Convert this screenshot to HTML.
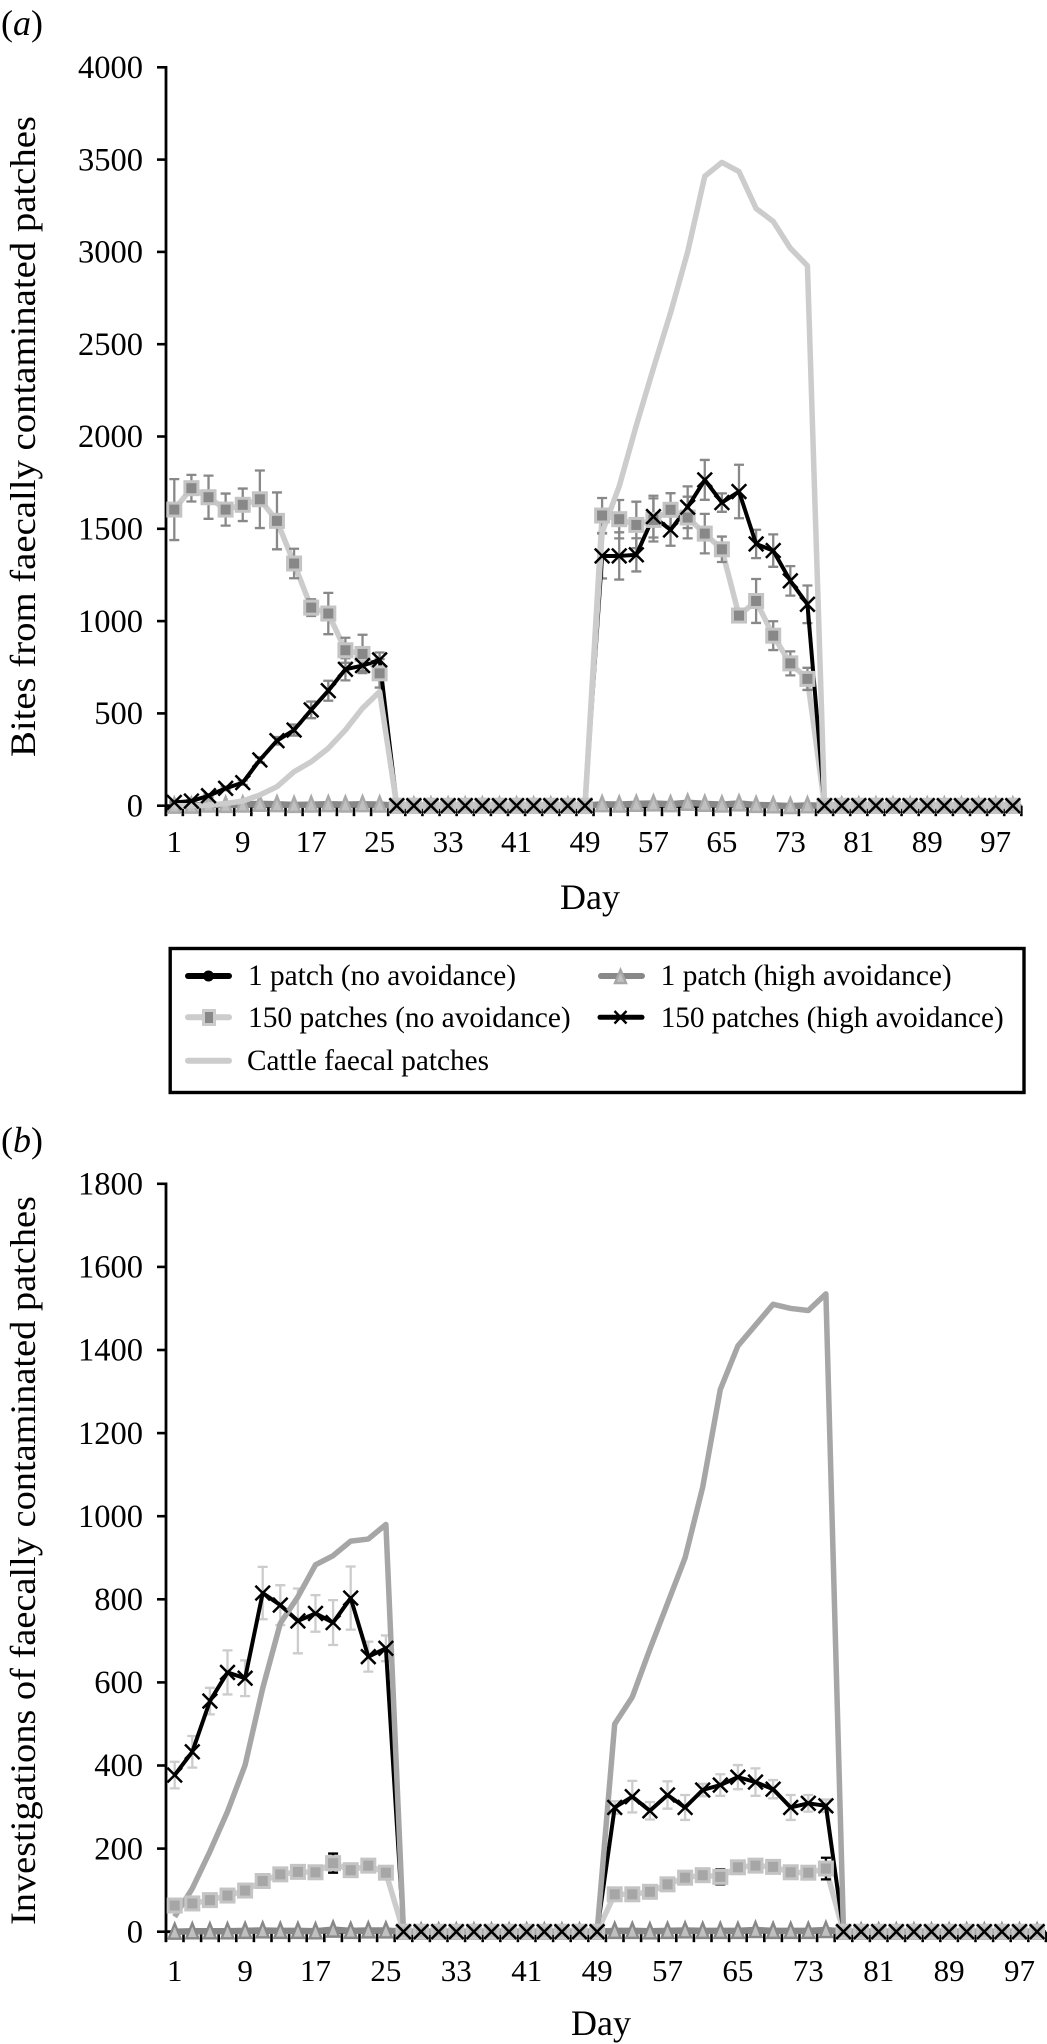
<!DOCTYPE html>
<html lang="en">
<head>
<meta charset="utf-8">
<title>Bites and investigations of faecally contaminated patches</title>
<style>
html,body{margin:0;padding:0;background:#fff;}
body{width:1047px;height:2044px;overflow:hidden;}
svg{display:block;}
text{font-family:"Liberation Serif","Times New Roman",serif;fill:#000;}
</style>
</head>
<body>
<svg id="figure" width="1047" height="2044" viewBox="0 0 1047 2044" xmlns="http://www.w3.org/2000/svg">
  <text x="1" y="35" font-size="36">(<tspan font-style="italic">a</tspan>)</text>
  <text x="1" y="1152" font-size="36">(<tspan font-style="italic">b</tspan>)</text>

  <g>
    <rect x="170.2" y="948.5" width="853.8" height="144" fill="#fff" stroke="#000" stroke-width="3.4"/>
    <g>
      <line x1="188" y1="976" x2="229" y2="976" stroke="#000" stroke-width="6" stroke-linecap="round"/>
      <circle cx="208.5" cy="976" r="5.5" fill="#000"/>
      <text x="248" y="985" font-size="29.3" textLength="268" lengthAdjust="spacingAndGlyphs">1 patch (no avoidance)</text>
    </g>
    <g>
      <line x1="601" y1="976" x2="642" y2="976" stroke="#888" stroke-width="6" stroke-linecap="round"/>
      <polygon points="620.5,970 626,983 615,983" fill="#c0c0c0" stroke="#a6a6a6" stroke-width="2.4"/>
      <text x="660.7" y="985" font-size="29.3" textLength="291" lengthAdjust="spacingAndGlyphs">1 patch (high avoidance)</text>
    </g>
    <g>
      <line x1="188" y1="1017.3" x2="229" y2="1017.3" stroke="#ccc" stroke-width="6" stroke-linecap="round"/>
      <rect x="203.5" y="1010.5" width="11" height="14" fill="#888" stroke="#ccc" stroke-width="3"/>
      <text x="248" y="1027" font-size="29.3" textLength="322.7" lengthAdjust="spacingAndGlyphs">150 patches (no avoidance)</text>
    </g>
    <g>
      <line x1="600" y1="1017.3" x2="642" y2="1017.3" stroke="#000" stroke-width="5" stroke-linecap="round"/>
      <path d="M614.5 1011 L626.5 1023.5 M626.5 1011 L614.5 1023.5" stroke="#000" stroke-width="2.4" fill="none"/>
      <text x="660.7" y="1027" font-size="29.3" textLength="343" lengthAdjust="spacingAndGlyphs">150 patches (high avoidance)</text>
    </g>
    <g>
      <line x1="188" y1="1060.7" x2="229" y2="1060.7" stroke="#ccc" stroke-width="6" stroke-linecap="round"/>
      <text x="247" y="1070" font-size="29.3" textLength="242" lengthAdjust="spacingAndGlyphs">Cattle faecal patches</text>
    </g>
  </g>
</svg>

<script>
// Categories: plotted days (odd days 1..99)
const days = [1,3,5,7,9,11,13,15,17,19,21,23,25,27,29,31,33,35,37,39,41,43,45,47,49,51,53,55,57,59,61,63,65,67,69,71,73,75,77,79,81,83,85,87,89,91,93,95,97,99];
const xTickLabels = [1,9,17,25,33,41,49,57,65,73,81,89,97];

// Panel (a): bites from faecally contaminated patches
const yTicksA = [0,500,1000,1500,2000,2500,3000,3500,4000];
const onePatchNoAvoidA = [0,0,0,0,0,0,0,0,0,0,0,0,0, 0,0,0,0,0,0,0,0,0,0,0,0, 0,0,0,0,0,0,0,0,0,0,0,0,0, 0,0,0,0,0,0,0,0,0,0,0,0];
const onePatchHighAvoidA = [0,0,6,4,6,10,8,4,6,8,6,8,6, 0,0,0,0,0,0,0,0,0,0,0,0, 8,6,10,12,8,16,10,6,12,4,2,-2,2, 0,0,0,0,0,0,0,0,0,0,0,0];
const manyPatchNoAvoidA = [1604,1720,1671,1604,1630,1660,1543,1312,1073,1041,842,822,717, 0,0,0,0,0,0,0,0,0,0,0,0, 1572,1552,1521,1548,1603,1561,1474,1389,1030,1109,921,771,687, 0,0,0,0,0,0,0,0,0,0,0,0];
const manyPatchNoAvoidErrA = [165,72,117,87,88,156,154,80,45,112,68,104,77, 0,0,0,0,0,0,0,0,0,0,0,0, 95,104,126,117,90,113,107,69,36,119,78,65,60, 0,0,0,0,0,0,0,0,0,0,0,0];
const manyPatchHighAvoidA = [18,25,54,94,125,248,352,410,519,623,739,759,790, 0,0,0,0,0,0,0,0,0,0,0,0, 1353,1353,1359,1566,1494,1617,1765,1642,1702,1418,1382,1218,1091, 0,0,0,0,0,0,0,0,0,0,0,0];
const manyPatchHighAvoidErrA = [5,5,8,10,12,15,20,30,45,54,60,30,40, 0,0,0,0,0,0,0,0,0,0,0,0, 122,128,90,113,86,113,108,50,145,77,88,80,102, 0,0,0,0,0,0,0,0,0,0,0,0];
const cattleA = [0,0,3,12,25,58,103,184,238,311,410,528,618, 0,0,0,0,0,0,0,0,0,0,0,0, 1480,1730,2060,2370,2670,3000,3410,3485,3435,3235,3165,3020,2925, 0,0,0,0,0,0,0,0,0,0,0,0];

// Panel (b): investigations of faecally contaminated patches
const yTicksB = [0,200,400,600,800,1000,1200,1400,1600,1800];
const onePatchNoAvoidB = [0,0,0,0,0,0,0,0,0,0,0,0,0, 0,0,0,0,0,0,0,0,0,0,0,0, 0,0,0,0,0,0,0,0,0,0,0,0,0, 0,0,0,0,0,0,0,0,0,0,0,0];
const onePatchHighAvoidB = [0,1,1,1,2,3,2,2,1,5,2,3,3, 0,0,0,0,0,0,0,0,0,0,0,0, 2,2,1,2,3,2,2,2,4,2,2,2,4, 0,0,0,0,0,0,0,0,0,0,0,0];
const manyPatchNoAvoidB = [63,68,76,87,99,122,138,144,143,165,148,159,142, 0,0,0,0,0,0,0,0,0,0,0,0, 90,90,96,114,130,136,132,155,159,156,143,142,152, 0,0,0,0,0,0,0,0,0,0,0,0];
const manyPatchNoAvoidErrB = [5,5,5,5,5,5,5,5,5,23,5,5,5, 0,0,0,0,0,0,0,0,0,0,0,0, 5,5,5,5,5,5,18,5,5,5,5,5,26, 0,0,0,0,0,0,0,0,0,0,0,0];
const manyPatchHighAvoidB = [377,433,555,624,610,815,786,748,766,744,803,662,682, 0,0,0,0,0,0,0,0,0,0,0,0, 299,325,291,329,299,341,353,372,360,343,299,309,303, 0,0,0,0,0,0,0,0,0,0,0,0];
const manyPatchHighAvoidErrB = [32,38,32,53,43,63,48,78,44,54,76,36,31, 0,0,0,0,0,0,0,0,0,0,0,0, 15,38,21,33,30,15,26,29,33,22,30,20,15, 0,0,0,0,0,0,0,0,0,0,0,0];
const cattleB = [36,104,193,289,401,586,742,806,883,905,940,945,980, 0,0,0,0,0,0,0,0,0,0,0,0, 500,565,680,790,900,1070,1305,1410,1460,1510,1500,1495,1535, 0,0,0,0,0,0,0,0,0,0,0,0];

const NS = 'http://www.w3.org/2000/svg';
const root = document.getElementById('figure');

function mk(tag, parent) {
  const el = document.createElementNS(NS, tag);
  parent.appendChild(el);
  return el;
}
function set(el, props) {
  for (const k in props) el.setAttribute(k, props[k]);
  return el;
}
function pathOf(values, sx, sy) {
  return values.map((v, i) => (i ? 'L' : 'M') + sx(days[i]).toFixed(2) + ' ' + sy(v).toFixed(2)).join(' ');
}
function seriesLine(parent, d, stroke, width) {
  const el = mk('path', parent);
  set(el, {d: d, fill: 'none', stroke: stroke, 'stroke-width': width, 'stroke-linejoin': 'round'});
  return el;
}

function drawErrorBars(parent, values, errs, sx, sy, colour) {
  errs.forEach((e, i) => {
    if (!e) return;
    const x = sx(days[i]);
    const y1 = sy(values[i] + e);
    const y2 = sy(values[i] - e);
    const bar = mk('path', parent);
    
    
    set(bar, {d: 'M' + x + ' ' + y1 + ' V' + y2 + ' M' + (x - 5) + ' ' + y1 + ' H' + (x + 5) + ' M' + (x - 5) + ' ' + y2 + ' H' + (x + 5), fill: 'none', stroke: colour, 'stroke-width': 2.3});
  });
}

function drawPanel(c) {
  const sx = d => c.x0 + (d - 1) * c.dx;
  const sy = v => c.y0 - v * c.yScale;

  const panel = mk('g', root);
  
  

  // Axes
  const axes = mk('g', panel);
  
  

  const yAxis = mk('line', axes);
  
  
  set(yAxis, {x1: 166, x2: 166, y1: sy(c.yTicks[c.yTicks.length - 1]) - 1.3, y2: c.y0 + 10, stroke: '#000', 'stroke-width': 2.8});

  const xAxis = mk('line', axes);
  
  
  set(xAxis, {x1: 166, x2: sx(100), y1: c.y0, y2: c.y0, stroke: '#000', 'stroke-width': 2.8});

  c.yTicks.forEach(t => {
    const tick = mk('line', axes);
    
    
    set(tick, {x1: 157, x2: 166, y1: sy(t), y2: sy(t), stroke: '#000', 'stroke-width': 2.6});
    const label = mk('text', axes);
    
    
    set(label, {x: 143, y: sy(t) + 10.7, 'text-anchor': 'end', 'font-size': 32.5});
    label.textContent = t;
  });

  for (let d = 0; d <= 100; d += 2) {
    const tick = mk('line', axes);
    
    
    set(tick, {x1: sx(d), x2: sx(d), y1: c.y0, y2: c.y0 + 10.5, stroke: '#000', 'stroke-width': 2.6});
  }

  xTickLabels.forEach(t => {
    const label = mk('text', axes);
    
    
    set(label, {x: sx(t), y: c.xLabelY, 'text-anchor': 'middle', 'font-size': 31});
    label.textContent = t;
  });

  const xTitle = mk('text', axes);
  
  
  set(xTitle, {x: c.dayX, y: c.dayY, 'text-anchor': 'middle', 'font-size': 36});
  xTitle.textContent = 'Day';

  const yTitle = mk('text', axes);
  
  
  set(yTitle, {transform: 'translate(35,' + c.titleStart + ') rotate(-90)', 'font-size': 36, textLength: c.titleLen, lengthAdjust: 'spacingAndGlyphs'});
  yTitle.textContent = c.title;

  // Series: 1 patch (no avoidance)
  const s1 = mk('g', panel);
  
  
  seriesLine(s1, pathOf(c.onePatchNo, sx, sy), '#000', 4);

  // Series: 1 patch (high avoidance)
  const s2 = mk('g', panel);
  
  
  seriesLine(s2, pathOf(c.onePatchHigh, sx, sy), '#888', 6.5);
  c.onePatchHigh.forEach((v, i) => {
    const x = sx(days[i]);
    const y = sy(v);
    const tri = mk('polygon', s2);
    
    
    set(tri, {points: x + ',' + (y - 8) + ' ' + (x + 6) + ',' + (y + 7) + ' ' + (x - 6) + ',' + (y + 7), fill: '#c0c0c0', stroke: c.triStroke, 'stroke-width': 2.4});
  });

  // Series: 150 patches (no avoidance), line and error bars
  const s3 = mk('g', panel);
  
  
  seriesLine(s3, pathOf(c.manyNo, sx, sy), '#ccc', 5.5);
  drawErrorBars(s3, c.manyNo, c.manyNoErr, sx, sy, c.squareErrColour);

  // Series: 150 patches (high avoidance), line and error bars
  const s4 = mk('g', panel);
  
  
  drawErrorBars(s4, c.manyHigh, c.manyHighErr, sx, sy, c.crossErrColour);
  seriesLine(s4, pathOf(c.manyHigh, sx, sy), '#000', 4);

  // Series: cattle faecal patches
  const s5 = mk('g', panel);
  
  
  seriesLine(s5, pathOf(c.cattle, sx, sy), c.cattleColour, 5.5);

  // Square markers
  const sq = mk('g', panel);
  
  
  c.manyNo.forEach((v, i) => {
    const r = mk('rect', sq);
    
    
    set(r, {x: sx(days[i]) - 6.5, y: sy(v) - 6.5, width: 13, height: 13, fill: v === 0 ? '#b4b4b4' : c.squareFill, stroke: '#c4c4c4', 'stroke-width': 3});
  });

  // Cross markers
  const cr = mk('g', panel);
  
  
  c.manyHigh.forEach((v, i) => {
    const x = sx(days[i]);
    const y = sy(v);
    const p = mk('path', cr);
    
    
    set(p, {d: 'M' + (x - 7.3) + ' ' + (y - 7.3) + ' L' + (x + 7.3) + ' ' + (y + 7.3) + ' M' + (x + 7.3) + ' ' + (y - 7.3) + ' L' + (x - 7.3) + ' ' + (y + 7.3), fill: 'none', stroke: '#000', 'stroke-width': 2.5});
  });
}

drawPanel({
  name: 'panel-a-chart', x0: 174.3, dx: 8.556, y0: 805.7, yScale: 0.1846,
  yTicks: yTicksA, xLabelY: 852, dayX: 590, dayY: 909,
  title: 'Bites from faecally contaminated patches', titleStart: 757, titleLen: 641,
  onePatchNo: onePatchNoAvoidA, onePatchHigh: onePatchHighAvoidA,
  manyNo: manyPatchNoAvoidA, manyNoErr: manyPatchNoAvoidErrA,
  manyHigh: manyPatchHighAvoidA, manyHighErr: manyPatchHighAvoidErrA,
  cattle: cattleA, cattleColour: '#ccc', squareFill: '#888', squareErrColour: '#888', crossErrColour: '#888', triStroke: '#aaa'
});

drawPanel({
  name: 'panel-b-chart', x0: 174.7, dx: 8.8, y0: 1931.7, yScale: 0.4155,
  yTicks: yTicksB, xLabelY: 1981, dayX: 601, dayY: 2035,
  title: 'Investigations of faecally contaminated patches', titleStart: 1925, titleLen: 729,
  onePatchNo: onePatchNoAvoidB, onePatchHigh: onePatchHighAvoidB,
  manyNo: manyPatchNoAvoidB, manyNoErr: manyPatchNoAvoidErrB,
  manyHigh: manyPatchHighAvoidB, manyHighErr: manyPatchHighAvoidErrB,
  cattle: cattleB, cattleColour: '#a6a6a6', squareFill: '#a6a6a6', squareErrColour: '#000', crossErrColour: '#ccc', triStroke: '#888'
});
</script>
</body>
</html>
